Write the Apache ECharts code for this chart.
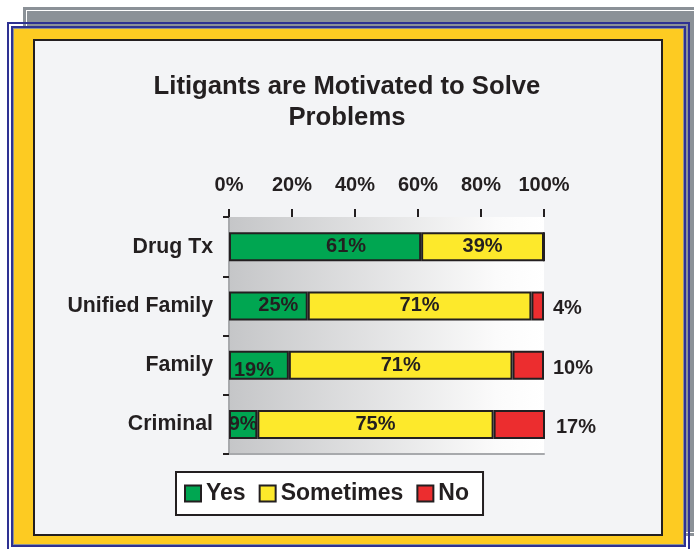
<!DOCTYPE html>
<html>
<head>
<meta charset="utf-8">
<script src="https://cdn.jsdelivr.net/npm/echarts@6/dist/echarts.min.js"></script>
<style>
  html, body { margin:0; padding:0; background:#ffffff; overflow:hidden; width:694px; height:549px; }
  .abs { position:absolute; box-sizing:border-box; }
  #chart { position:absolute; left:0; top:0; width:694px; height:549px; }
</style>
</head>
<body>
<div class="abs" style="left:23px;top:7px;width:700px;height:529px;background:#8b9197;"></div>
<div class="abs" style="left:26px;top:10px;width:700px;height:523px;border:1px solid #ffffff;"></div>
<div class="abs" style="left:7px;top:22px;width:683px;height:600px;border:2px solid #2e3192;"></div>
<div class="abs" style="left:11px;top:26px;width:675px;height:521px;border:2px solid #2e3192;background:#8b9197;"></div>
<div class="abs" style="left:14px;top:29px;width:669px;height:515px;background:#fdcb22;"></div>
<div class="abs" style="left:33px;top:39px;width:630px;height:497px;border:2px solid #231f20;background:#f3f4f6;"></div>
<div id="chart"></div>
<script>
const categories = ['Drug Tx', 'Unified Family', 'Family', 'Criminal'];
const yesValues = [61, 25, 19, 9];
const sometimesValues = [39, 71, 71, 75];
const noValues = [0, 4, 10, 17];
const seriesNames = ['Yes', 'Sometimes', 'No'];
const axisTicks = [0, 20, 40, 60, 80, 100];

// label placement tweaks (styling, not data)
const yesLabelOffsets = [[21, 0], [10, 0], [-5, 5], [0, 0]];
const noLabelOffsets = [[0, 3], [0, 3], [0, 3.5], [2, 3.5]];

const FONT = "'Liberation Sans', Arial, Helvetica, sans-serif";
const INK = '#231f20';
const colors = ['#00a651', '#fde92b', '#ec2d2f'];

const chart = echarts.init(document.getElementById('chart'), null, { renderer: 'canvas' });

const labelBase = { show: true, color: INK, fontFamily: FONT, fontWeight: 'bold', fontSize: 20, formatter: p => (p.value ? p.value + '%' : '') };

const yesData = yesValues.map((v, i) => ({ value: v, label: { offset: yesLabelOffsets[i] } }));
const noData = noValues.map((v, i) => ({ value: v, label: { offset: noLabelOffsets[i] } }));

const option = {
  animation: false,
  textStyle: { fontFamily: FONT },
  title: {
    text: 'Litigants are Motivated to Solve\nProblems',
    left: 'center',
    top: 71,
    padding: 0,
    textStyle: { fontFamily: FONT, fontWeight: 'bold', fontSize: 25.7, lineHeight: 31, color: INK }
  },
  legend: {
    data: seriesNames,
    left: 176,
    top: 472,
    orient: 'horizontal',
    icon: 'rect',
    itemWidth: 16,
    itemHeight: 16,
    itemGap: 13,
    backgroundColor: '#ffffff',
    borderColor: INK,
    borderWidth: 2,
    padding: [10, 14, 10, 8],
    textStyle: { fontFamily: FONT, fontWeight: 'bold', fontSize: 23, color: INK }
  },
  grid: {
    left: 229,
    top: 217,
    width: 315,
    height: 237,
    show: true,
    borderWidth: 0,
    backgroundColor: new echarts.graphic.LinearGradient(0, 0, 1, 0, [
      { offset: 0, color: '#c5c6c8' },
      { offset: 0.85, color: '#fbfbfb' },
      { offset: 1, color: '#ffffff' }
    ])
  },
  xAxis: [{
    type: 'value',
    position: 'top',
    min: axisTicks[0],
    max: axisTicks[axisTicks.length - 1],
    interval: 20,
    axisLine: { show: false },
    axisTick: { show: true, length: 8, lineStyle: { color: INK, width: 2 } },
    splitLine: { show: false },
    axisLabel: { formatter: '{value}%', margin: 22, color: INK, fontFamily: FONT, fontWeight: 'bold', fontSize: 20 }
  }, {
    type: 'value',
    position: 'bottom',
    min: 0, max: 100,
    axisLine: { show: true, lineStyle: { color: '#a7a9ac', width: 2 } },
    axisTick: { show: false },
    axisLabel: { show: false },
    splitLine: { show: false }
  }],
  yAxis: [{
    type: 'category',
    data: categories,
    inverse: true,
    axisLine: { show: true, lineStyle: { color: INK, width: 2 } },
    axisTick: { show: true, length: 6, lineStyle: { color: INK, width: 2 } },
    axisLabel: { margin: 16, color: INK, fontFamily: FONT, fontWeight: 'bold', fontSize: 21.3 }
  }, {
    type: 'category',
    data: categories,
    inverse: true,
    position: 'right',
    axisLine: { show: true, lineStyle: { color: '#a7a9ac', width: 2 } },
    axisTick: { show: false },
    axisLabel: { show: false }
  }],
  series: [
    {
      name: seriesNames[0], type: 'bar', stack: 'total', barWidth: 29,
      xAxisIndex: 0, yAxisIndex: 0,
      itemStyle: { color: colors[0], borderColor: INK, borderWidth: 2 },
      label: Object.assign({}, labelBase, { position: 'inside' }),
      data: yesData
    },
    {
      name: seriesNames[1], type: 'bar', stack: 'total', barWidth: 29,
      xAxisIndex: 0, yAxisIndex: 0,
      itemStyle: { color: colors[1], borderColor: INK, borderWidth: 2 },
      label: Object.assign({}, labelBase, { position: 'inside' }),
      data: sometimesValues
    },
    {
      name: seriesNames[2], type: 'bar', stack: 'total', barWidth: 29,
      xAxisIndex: 0, yAxisIndex: 0,
      clip: true,
      itemStyle: { color: colors[2], borderColor: INK, borderWidth: 2 },
      label: Object.assign({}, labelBase, { position: 'right', distance: 9 }),
      data: noData
    }
  ]
};
chart.setOption(option);
</script>
</body>
</html>
